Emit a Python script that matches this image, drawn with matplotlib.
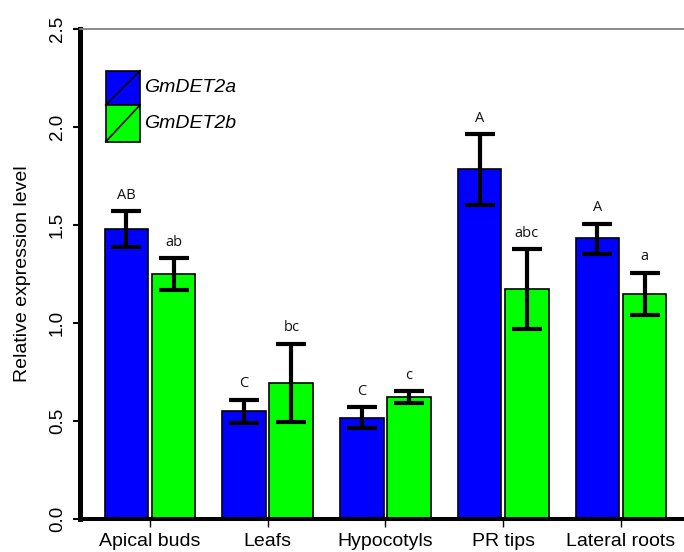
import matplotlib
matplotlib.use("Agg")
import matplotlib.pyplot as plt
from matplotlib.patches import Rectangle
from matplotlib.lines import Line2D
import numpy as np

categories = ["Apical buds", "Leafs", "Hypocotyls", "PR tips", "Lateral roots"]
series_names = ["GmDET2a", "GmDET2b"]
det2a_mean = [1.48, 0.551, 0.518, 1.786, 1.432]
det2a_upper = [1.57, 0.61, 0.572, 1.964, 1.507]
det2a_lower = [1.39, 0.49, 0.463, 1.605, 1.353]
det2b_mean = [1.25, 0.694, 0.623, 1.173, 1.149]
det2b_upper = [1.33, 0.896, 0.653, 1.376, 1.256]
det2b_lower = [1.17, 0.495, 0.592, 0.969, 1.042]
det2a_letters = ["AB", "C", "C", "A", "A"]
det2b_letters = ["ab", "bc", "c", "abc", "a"]
yticks = [0.0, 0.5, 1.0, 1.5, 2.0, 2.5]

W, H = 684, 552
fig = plt.figure(figsize=(W / 100, H / 100), dpi=100)
ax_l, ax_r, ax_t, ax_b = 80, 684, 29, 519.3
ax = fig.add_axes([ax_l / W, 1 - ax_b / H, (ax_r - ax_l) / W, (ax_b - ax_t) / H])

x = np.arange(len(categories))
bw = 0.37
off = 0.2
colors = ["#0000FF", "#00FF00"]
means = [det2a_mean, det2b_mean]
uppers = [det2a_upper, det2b_upper]
lowers = [det2a_lower, det2b_lower]
letters = [det2a_letters, det2b_letters]

for i in range(2):
    xs = x + (-off if i == 0 else off)
    m = np.array(means[i])
    up = np.array(uppers[i])
    lo = np.array(lowers[i])
    ax.bar(xs, m, width=bw, color=colors[i], edgecolor="black", linewidth=1.2, zorder=2)
    ax.errorbar(xs, m, yerr=[m - lo, up - m], fmt="none", ecolor="black",
                elinewidth=3.0, capsize=10.5, capthick=3.0, zorder=3)
    for xi, u, lab in zip(xs, up, letters[i]):
        ax.annotate(lab, (xi, u), xytext=(0, 9), textcoords="offset points",
                    ha="center", va="baseline", fontsize=10.5, family="Open Sans",
                    color="#111111")

ax.set_xlim(-0.594, 4.535)
ax.set_ylim(0, 2.5)
ax.set_yticks(yticks)
ax.set_yticklabels([f"{v:.1f}" for v in yticks], rotation=90, va="center",
                   fontsize=13.5, family="Liberation Sans")
ax.set_xticks(x)
ax.set_xticklabels(categories, fontsize=14, family="Liberation Sans")
ax.tick_params(axis="x", length=6, width=1.0, pad=4, direction="out")
ax.tick_params(axis="y", length=5, width=1.5, pad=5, direction="out")
ax.set_ylabel("Relative expression level", fontsize=14, family="Liberation Sans", labelpad=13)

for s in ["right"]:
    ax.spines[s].set_visible(False)
ax.spines["left"].set_linewidth(3.6)
ax.spines["bottom"].set_linewidth(2.9)
ax.spines["top"].set_linewidth(1.3)
ax.spines["top"].set_color("#808080")

# legend boxes
aw = ax_r - ax_l
ah = ax_b - ax_t
bx0 = (105.7 - ax_l) / aw
bwid = 34.3 / aw
box_tops = [70.7, 105.0]
box_bots = [105.0, 141.7]
for i in range(2):
    y0 = (ax_b - box_bots[i]) / ah
    y1 = (ax_b - box_tops[i]) / ah
    ax.add_patch(Rectangle((bx0, y0), bwid, y1 - y0, transform=ax.transAxes,
                           facecolor=colors[i], edgecolor="black", linewidth=1.2,
                           clip_on=False, zorder=4))
    ax.add_line(Line2D([bx0, bx0 + bwid], [y0, y1], transform=ax.transAxes,
                       color="black", linewidth=1.2, clip_on=False, zorder=5))
    ax.text((144.3 - ax_l) / aw, (y0 + y1) / 2, series_names[i], transform=ax.transAxes,
            ha="left", va="center", fontsize=14, style="italic", family="Liberation Sans")

fig.savefig("out.png", dpi=100)
